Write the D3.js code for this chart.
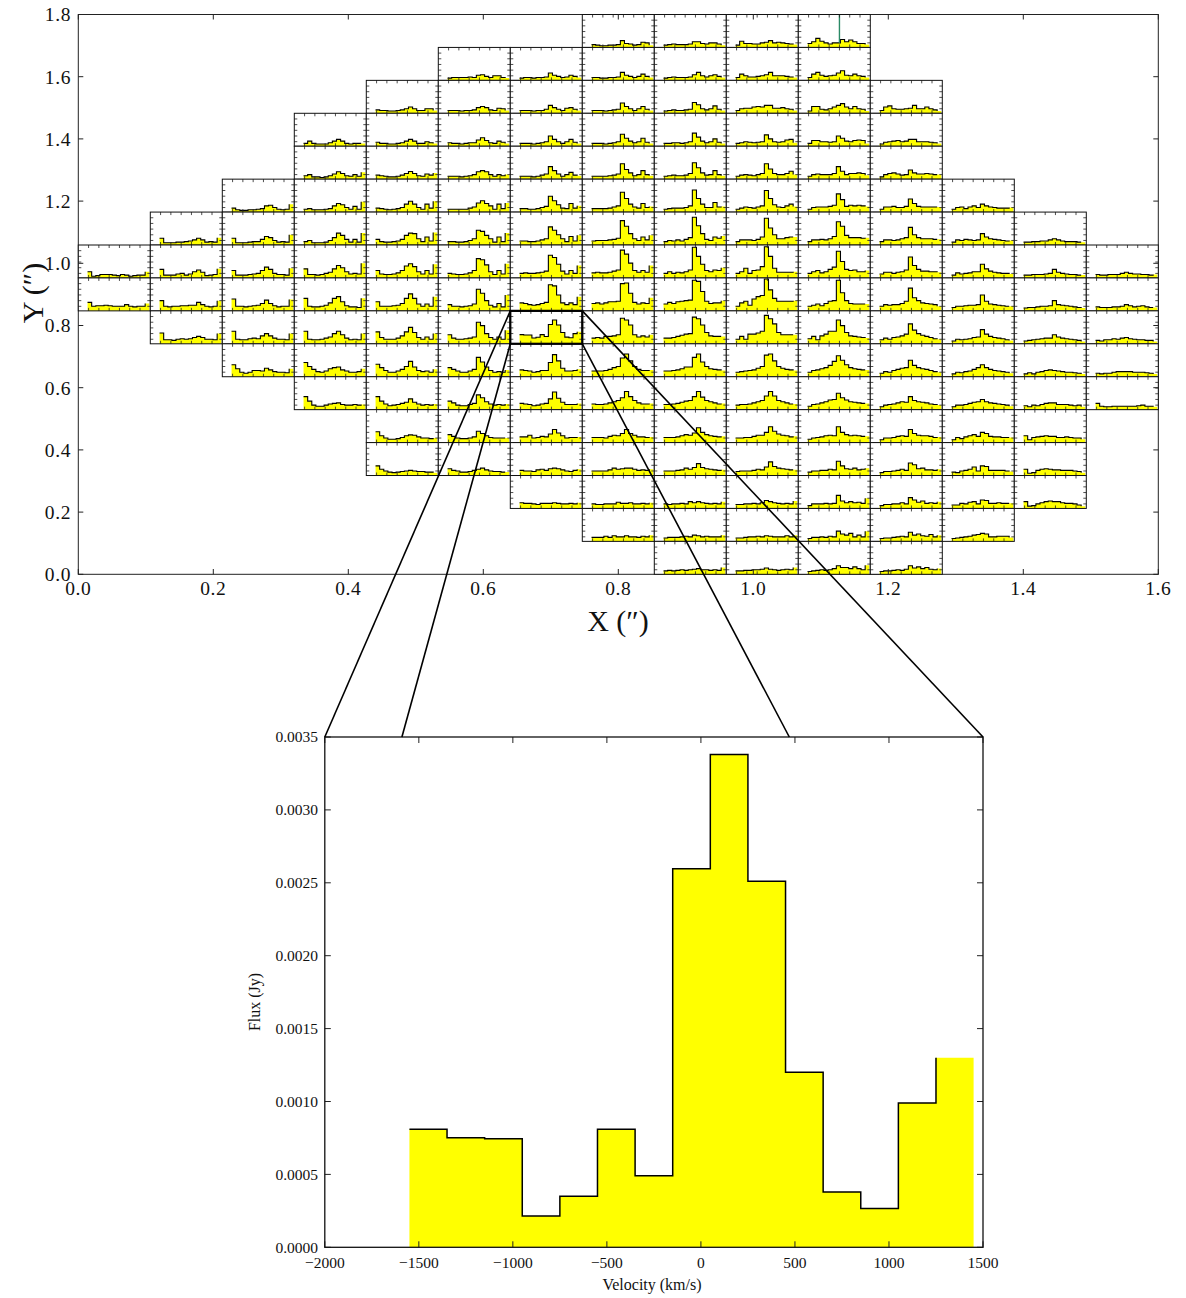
<!DOCTYPE html>
<html><head><meta charset="utf-8">
<script src="https://cdn.jsdelivr.net/npm/d3@7"></script>
<style>
body{margin:0;background:#fff}
svg{display:block}
text{font-family:"Liberation Serif","DejaVu Serif",serif;fill:#111}
</style></head>
<body><svg id="chart" width="1186" height="1298"></svg>
<script>
// ---------------- DATA ----------------
// velocity bins (km/s): left edges, width 200
const binLeftEdges = [-1550,-1350,-1150,-950,-750,-550,-350,-150,50,250,450,650,850,1050,1250];
const binWidth = 200;
// zoomed spectrum (Jy) of the highlighted spaxel
const zoomFlux = [0.00081,0.000752,0.000744,0.000215,0.00035,0.00081,0.00049,0.002596,0.00338,0.00251,0.0012,0.00038,0.000266,0.00099,0.0013];

// axis ticks
const mapXTicks = [0,0.2,0.4,0.6,0.8,1.0,1.2,1.4,1.6];
const mapYTicks = [0,0.2,0.4,0.6,0.8,1.0,1.2,1.4,1.6,1.8];
const velTicks = [-2000,-1500,-1000,-500,0,500,1000,1500];
const fluxTicks = [0,0.0005,0.001,0.0015,0.002,0.0025,0.003,0.0035];
const cellVelTicks = [-1500,-1000,-500,0,500,1000];
const cellFluxTicks = [0,0.001,0.002,0.003,0.004];

// map grid: 15 columns x 17 rows over 1.6" x 1.8"
const mapExtent = [1.6, 1.8];
const gridCols = 15, gridRows = 17;
const firstRowOfColumn = [7,6,5,3,2,1,1,0,0,0,0,2,5,6,7];
const highlightCell = [6, 9];          // column, row (row 0 = top)
const markerCell = [10, 0];            // spaxel with vertical marker at v = 0
const zoomLineEnds = [-2000, -1590, 470, 1500]; // where connector lines meet the zoom panel (km/s)

// spaxel spectra (mJy), per column, rows from top
const spectraC00 = [
 [0.3,-0.5,-0.4,-0.2,-0.2,-0.2,-0.3,-0.4,-0.2,-0.3,-0.5,-0.4,-0.3,-0.3,0.3],
 [0.7,0.0,0.1,0.1,0.2,0.1,0.0,0.0,0.0,0.3,0.0,-0.1,0.0,0.0,0.5]];
const spectraC01 = [
 [0.4,-0.4,-0.4,-0.4,-0.3,-0.3,-0.2,-0.1,0.1,0.4,0.1,-0.3,-0.2,-0.3,0.5],
 [0.7,-0.3,-0.3,-0.3,-0.1,0.0,-0.3,-0.1,0.3,0.6,0.2,-0.4,-0.3,-0.2,0.8],
 [1.0,0.0,-0.1,0.0,0.0,0.1,0.1,0.2,0.2,0.7,0.3,0.0,-0.1,0.0,1.0],
 [1.1,-0.1,-0.1,-0.2,0.0,0.1,0.0,0.1,0.3,0.5,0.3,0.0,0.0,-0.1,1.0]];
const spectraC02 = [
 [-0.1,-0.4,-0.5,-0.5,-0.4,-0.4,-0.3,-0.2,0.3,0.4,0.0,-0.3,-0.4,-0.3,0.6],
 [0.4,-0.4,-0.4,-0.4,-0.3,-0.2,-0.2,0.2,0.7,0.5,0.0,-0.3,-0.2,-0.3,1.0],
 [0.5,-0.3,-0.3,-0.3,-0.2,-0.1,0.0,0.5,1.1,0.7,0.0,-0.2,-0.2,-0.3,0.9],
 [1.3,0.0,0.0,-0.1,0.0,0.1,0.2,0.5,1.1,0.5,0.1,-0.1,0.0,0.0,1.2],
 [1.4,0.0,-0.1,-0.1,0.1,0.2,0.1,0.6,1.0,0.6,0.2,0.0,0.0,-0.1,1.0],
 [1.3,0.6,0.0,-0.2,0.0,0.3,0.3,0.2,0.7,0.4,0.1,0.0,0.0,-0.1,0.6]];
const spectraC03 = [
 [-0.3,0.1,-0.3,-0.4,-0.4,-0.4,-0.2,0.1,0.4,0.1,-0.3,-0.4,-0.3,-0.3,-0.3],
 [-0.2,0.0,-0.4,-0.4,-0.5,-0.4,-0.2,0.1,0.5,0.2,-0.2,-0.3,0.0,-0.3,0.4],
 [-0.3,-0.2,-0.4,-0.4,-0.4,-0.3,-0.2,0.3,0.7,0.5,0.0,-0.3,0.2,-0.3,1.0],
 [-0.2,0.0,-0.4,-0.4,-0.4,-0.3,0.0,0.5,1.3,0.9,0.2,-0.3,0.2,-0.3,1.3],
 [0.8,-0.2,-0.2,-0.3,-0.2,0.0,0.2,0.8,1.4,1.0,0.3,-0.1,0.0,-0.1,1.8],
 [1.4,0.0,-0.1,-0.1,0.0,0.2,0.6,1.4,1.7,0.8,0.1,-0.1,-0.1,-0.2,1.4],
 [1.4,0.0,-0.1,-0.1,0.0,0.2,0.4,1.0,1.4,0.8,0.2,-0.1,0.0,-0.1,1.0],
 [1.7,1.0,0.5,0.1,0.0,0.2,0.6,0.8,0.9,0.4,0.2,0.0,0.0,0.1,0.6],
 [1.5,0.7,0.0,-0.2,-0.2,0.0,0.2,0.3,0.4,0.1,0.0,0.0,0.1,0.0,0.1]];
const spectraC04 = [
 [-0.2,-0.3,-0.3,-0.4,-0.4,-0.3,-0.2,0.0,0.3,0.0,-0.3,-0.3,0.0,0.0,-0.3],
 [-0.1,-0.3,-0.3,-0.4,-0.4,-0.3,-0.2,0.1,0.4,0.1,-0.3,-0.3,0.0,-0.2,-0.3],
 [-0.1,-0.2,-0.3,-0.4,-0.4,-0.3,-0.1,0.2,0.55,0.2,-0.2,-0.3,0.1,-0.1,0.3],
 [-0.1,-0.2,-0.3,-0.4,-0.3,-0.2,0.0,0.6,1.1,0.6,0.0,-0.3,0.6,-0.1,1.1],
 [0.2,-0.2,-0.3,-0.3,-0.2,-0.1,0.2,0.9,1.3,1.2,0.3,-0.2,0.6,-0.1,1.4],
 [0.5,-0.1,-0.2,-0.2,-0.1,0.1,0.5,1.3,1.7,1.2,0.3,-0.1,0.5,-0.1,1.6],
 [0.8,0.0,0.0,0.0,0.1,0.2,0.5,1.4,2.2,1.4,0.4,0.0,0.4,0.0,1.7],
 [1.3,0.3,0.0,0.0,0.0,0.2,0.6,1.3,2.1,1.2,0.3,0.0,0.4,0.0,1.0],
 [1.4,0.8,0.3,0.0,0.0,0.2,0.5,1.0,1.9,0.9,0.3,0.1,0.2,0.0,0.5],
 [1.5,0.7,0.2,-0.1,0.0,0.1,0.3,0.5,1.1,0.5,0.2,0.0,0.1,0.0,0.2],
 [1.1,0.4,0.0,-0.2,-0.2,-0.1,0.1,0.4,0.55,0.5,0.2,0.0,0.0,-0.1,0.0],
 [0.9,0.3,0.0,-0.2,-0.3,-0.2,-0.1,0.0,0.1,0.0,-0.1,-0.1,-0.2,-0.2,-0.3]];
const spectraC05 = [
 [-0.4,-0.3,-0.3,-0.3,-0.3,-0.2,-0.3,0.1,0.2,-0.1,-0.3,0.0,0.0,-0.3,-0.4],
 [-0.3,-0.3,-0.3,-0.4,-0.3,-0.3,-0.2,0.2,0.4,0.2,-0.2,-0.3,0.1,0.0,-0.3],
 [-0.2,-0.3,-0.3,-0.4,-0.3,-0.2,-0.2,0.3,0.7,0.2,-0.2,-0.3,0.1,-0.1,-0.3],
 [-0.3,-0.3,-0.3,-0.4,-0.3,-0.2,0.0,0.5,0.7,0.5,0.0,-0.3,0.0,-0.2,0.0],
 [-0.3,-0.3,-0.3,-0.3,-0.3,-0.1,0.1,0.8,1.2,0.7,0.3,-0.3,0.6,-0.2,0.8],
 [-0.2,-0.2,-0.3,-0.3,-0.2,0.0,0.3,1.8,1.6,0.9,0.3,-0.3,0.6,-0.2,1.3],
 [0.0,-0.1,-0.2,-0.2,-0.1,0.1,0.5,2.6,2.4,1.5,0.3,-0.2,0.5,-0.1,1.7],
 [0.3,0.0,0.0,-0.1,0.0,0.1,0.4,3.0,2.3,1.0,0.2,-0.1,0.5,-0.1,2.0],
 [0.8,0.2,0.0,0.0,0.1,0.2,0.4,3.0,2.4,1.0,0.3,0.0,0.4,0.0,1.6],
 [0.8,0.5,0.2,0.0,0.0,0.2,0.5,2.6,1.8,0.9,0.3,0.0,0.1,0.0,0.4],
 [0.7,0.4,0.0,-0.1,-0.1,0.1,0.3,1.8,1.3,0.6,0.2,0.0,0.1,0.0,0.2],
 [0.6,0.3,0.0,-0.1,-0.1,0.0,0.2,1.2,0.8,0.4,0.1,0.0,0.0,0.0,0.0],
 [0.4,0.1,0.0,-0.2,-0.2,-0.1,0.1,0.3,0.5,0.2,0.0,-0.1,-0.1,-0.2,-0.2]];
const spectraC06 = [
 [-0.4,-0.3,-0.3,-0.4,-0.3,-0.3,-0.2,0.5,0.1,-0.1,-0.3,-0.2,0.1,-0.1,-0.3],
 [-0.3,-0.3,-0.3,-0.4,-0.3,-0.3,-0.1,0.6,0.2,-0.1,-0.3,0.1,0.2,-0.1,-0.3],
 [-0.3,-0.3,-0.3,-0.4,-0.3,-0.2,0.0,1.0,0.4,0.0,-0.3,0.0,0.4,-0.1,-0.3],
 [-0.3,-0.3,-0.3,-0.4,-0.3,-0.1,0.1,1.4,0.7,0.1,-0.3,0.0,0.4,-0.1,-0.2],
 [-0.2,-0.2,-0.3,-0.3,-0.2,0.0,0.2,2.0,1.2,0.5,-0.1,-0.2,0.7,-0.1,0.3],
 [-0.1,-0.1,-0.2,-0.2,-0.1,0.1,0.3,2.4,1.8,1.0,0.3,-0.2,0.7,-0.1,0.9],
 [0.0,0.1,0.0,0.0,0.1,0.2,0.4,3.2,2.8,1.6,0.4,-0.1,0.5,0.0,1.4],
 [0.6,0.5,0.3,0.2,0.3,0.5,0.7,3.8,3.6,2.0,0.6,0.3,0.6,0.3,1.7],
 null, // highlighted spaxel: uses zoomFlux
 [0.4,0.3,0.2,0.0,0.1,0.3,0.3,1.7,3.1,2.0,0.7,0.2,0.2,0.3,0.5],
 [0.3,0.2,0.1,-0.1,0.0,0.2,0.3,1.1,2.3,1.2,0.5,0.1,0.1,0.1,0.3],
 [0.2,0.2,0.5,0.0,0.1,0.3,0.2,0.7,1.5,0.9,0.4,0.0,0.1,0.1,0.2],
 [0.1,0.0,0.0,-0.1,0.2,0.3,0.1,0.4,0.5,0.4,0.2,0.0,-0.1,0.1,0.3],
 [0.2,0.1,0.1,0.0,-0.1,0.1,0.1,0.1,0.2,0.1,0.0,0.0,0.1,0.0,0.2]];
const spectraC07 = [
 [-0.3,-0.4,-0.5,-0.5,-0.4,-0.4,-0.3,0.4,-0.1,-0.2,-0.4,-0.3,0.1,0.0,-0.4],
 [-0.3,-0.3,-0.4,-0.4,-0.3,-0.3,-0.2,0.6,0.1,-0.1,-0.3,-0.1,0.3,-0.1,-0.3],
 [-0.3,-0.3,-0.3,-0.4,-0.3,-0.2,-0.1,1.0,0.4,0.0,-0.3,0.0,0.4,-0.1,-0.3],
 [-0.3,-0.3,-0.3,-0.4,-0.3,-0.2,0.0,1.3,0.6,0.1,-0.2,0.0,0.6,-0.1,-0.3],
 [-0.3,-0.3,-0.3,-0.3,-0.2,-0.1,0.1,1.9,0.9,0.3,-0.2,0.0,0.7,0.0,-0.2],
 [-0.2,-0.2,-0.2,-0.2,-0.1,0.1,0.3,2.7,1.6,0.6,0.1,-0.1,0.7,0.0,0.2],
 [-0.1,0.0,0.0,0.0,0.1,0.2,0.4,3.5,2.5,1.2,0.3,0.0,0.6,0.1,0.9],
 [0.1,0.2,0.1,0.1,0.2,0.4,0.6,4.1,3.4,1.8,0.5,0.2,0.5,0.2,1.4],
 [0.5,0.6,0.4,0.6,0.8,0.8,0.9,4.0,4.1,2.3,0.7,0.4,0.6,0.5,1.5],
 [0.2,0.3,0.2,0.5,0.5,0.6,0.8,3.7,3.4,2.5,0.8,0.4,0.6,0.4,0.8],
 [0.2,0.2,0.2,0.3,0.5,0.8,1.0,2.5,3.2,2.0,1.0,0.5,0.3,0.3,0.4],
 [0.2,0.1,0.1,0.2,0.4,0.6,0.8,1.3,2.4,1.5,0.8,0.4,0.2,0.2,0.3],
 [0.1,0.1,0.1,0.0,0.3,0.5,0.4,0.8,1.5,0.8,0.5,0.2,0.2,0.1,0.2],
 [0.0,0.0,0.0,0.0,0.2,0.5,0.3,0.4,0.5,0.5,0.3,0.1,0.2,0.1,0.3],
 [0.0,-0.1,-0.1,0.0,0.0,0.0,0.3,0.1,0.1,0.2,0.0,0.0,0.1,0.0,0.2],
 [-0.1,-0.1,-0.1,0.1,-0.1,0.2,0.0,0.0,0.2,0.0,0.0,-0.1,0.1,0.0,0.3]];
const spectraC08 = [
 [-0.4,-0.3,-0.2,-0.3,-0.3,-0.3,-0.2,0.2,0.2,-0.1,-0.2,0.0,0.0,-0.2,-0.4],
 [-0.4,-0.3,-0.2,-0.3,-0.3,-0.3,-0.2,0.2,0.6,0.0,-0.2,0.0,0.2,-0.1,-0.3],
 [-0.4,-0.3,-0.2,-0.3,-0.3,-0.2,-0.1,1.1,0.7,0.0,-0.2,0.0,0.5,-0.1,-0.3],
 [-0.3,-0.3,-0.2,-0.2,-0.3,-0.2,0.0,1.5,0.8,0.1,-0.2,0.0,0.5,-0.1,-0.3],
 [-0.3,-0.2,-0.1,-0.2,-0.2,-0.1,0.2,2.1,1.2,0.3,-0.1,0.0,0.7,0.0,-0.2],
 [-0.3,-0.2,-0.1,-0.1,-0.1,0.0,0.3,3.1,1.6,0.6,0.0,0.0,0.9,0.1,0.2],
 [-0.2,0.0,-0.1,0.1,-0.1,0.2,0.5,4.1,2.6,1.2,0.2,0.0,0.6,0.4,0.8],
 [0.0,0.3,0.0,0.2,0.1,0.3,0.6,4.6,3.0,1.6,0.5,0.3,0.6,0.5,1.0],
 [0.4,0.7,0.5,0.8,0.9,1.0,1.1,4.6,4.4,2.6,0.9,0.5,0.6,0.6,1.0],
 [0.2,0.2,0.3,0.5,0.7,0.9,1.0,3.9,3.6,2.5,1.2,0.6,0.5,0.5,0.5],
 [0.2,0.2,0.3,0.4,0.6,0.9,0.9,2.6,3.2,1.8,1.0,0.6,0.5,0.4,0.3],
 [0.1,0.1,0.2,0.3,0.5,0.7,0.8,1.5,2.4,1.4,0.8,0.6,0.4,0.2,0.3],
 [0.1,0.1,0.1,0.2,0.4,0.6,0.5,0.9,1.8,1.0,0.6,0.4,0.3,0.2,0.3],
 [0.0,0.0,0.0,0.1,0.2,0.5,0.3,0.6,1.3,0.6,0.4,0.3,0.2,0.1,0.2],
 [0.0,-0.1,0.0,0.0,0.1,0.0,0.4,0.2,0.4,0.2,0.1,0.0,0.1,0.0,0.4],
 [-0.2,-0.1,-0.1,-0.1,0.0,0.1,0.0,0.3,0.2,0.0,0.1,0.0,0.0,0.0,0.3],
 [-0.2,-0.1,-0.2,-0.1,0.0,-0.1,0.0,0.1,0.2,0.0,0.0,-0.1,0.0,-0.1,0.4]];
const spectraC09 = [
 [-0.4,0.3,-0.1,-0.1,-0.2,-0.2,0.0,0.1,0.4,0.0,0.1,0.0,-0.1,-0.2,-0.3],
 [-0.3,0.3,0.0,-0.2,-0.2,-0.1,0.0,0.2,0.6,0.0,0.0,0.0,-0.1,-0.2,-0.3],
 [-0.3,0.0,0.1,0.1,0.3,0.4,0.3,0.6,0.6,0.1,0.1,0.2,0.0,-0.1,-0.3],
 [-0.3,-0.2,0.0,-0.1,-0.2,-0.1,0.0,1.2,0.5,0.0,-0.1,0.0,0.3,0.4,-0.2],
 [-0.3,-0.1,0.0,-0.1,-0.2,0.0,0.2,1.9,1.0,0.2,0.0,0.0,0.2,0.6,0.0],
 [-0.3,-0.1,0.1,0.0,-0.1,0.1,0.3,3.0,1.6,0.5,0.1,0.0,0.3,0.6,0.2],
 [-0.2,0.1,0.1,0.1,0.0,0.2,0.6,3.9,2.2,1.0,0.3,0.3,0.5,0.6,0.6],
 [0.0,0.3,0.9,0.0,0.5,0.6,1.2,4.7,3.0,0.9,0.2,0.2,0.2,0.2,0.3],
 [0.0,0.6,0.9,0.2,1.3,1.7,1.9,4.8,2.9,1.4,0.9,0.9,0.9,0.9,1.0],
 [0.0,0.5,0.0,0.9,0.9,1.1,1.4,4.2,3.6,2.7,1.2,0.8,0.8,0.8,0.8],
 [0.0,0.1,0.2,0.3,0.4,0.7,1.0,3.0,3.2,2.0,1.0,0.7,0.5,0.4,0.3],
 [0.0,0.1,0.1,0.2,0.4,0.6,0.8,1.6,2.4,1.6,0.8,0.6,0.4,0.2,0.2],
 [0.0,0.0,0.1,0.1,0.3,0.5,0.5,1.0,2.0,1.2,0.7,0.5,0.4,0.2,0.3],
 [-0.1,0.0,0.0,0.0,0.1,0.3,0.2,0.7,1.6,0.8,0.5,0.4,0.3,0.2,0.2],
 [-0.1,-0.1,0.0,0.0,0.1,0.0,0.2,0.6,0.4,0.2,0.1,0.0,0.1,0.0,0.5],
 [-0.2,-0.2,-0.1,0.0,0.0,0.1,0.0,0.2,0.1,0.0,0.0,0.0,0.2,0.0,0.3],
 [-0.2,-0.2,-0.1,-0.1,0.0,0.0,0.1,0.3,0.1,0.0,-0.1,0.0,0.1,0.0,0.4]];
const spectraC10 = [
 [-0.1,0.2,0.8,0.3,0.0,-0.2,0.0,0.0,0.6,0.2,0.5,0.2,-0.1,-0.1,-0.3],
 [-0.3,0.3,0.6,0.1,-0.1,0.0,0.1,0.5,0.9,0.1,0.0,0.3,0.0,-0.1,-0.3],
 [-0.4,0.4,0.4,-0.1,-0.2,0.0,0.3,0.6,0.9,0.3,0.0,0.4,0.0,-0.1,-0.4],
 [-0.3,0.2,0.2,0.0,0.0,-0.1,0.0,1.0,0.6,0.1,0.0,0.2,0.3,0.2,-0.3],
 [-0.3,0.0,0.1,0.0,0.0,0.0,0.2,1.4,0.6,0.0,0.2,0.2,0.3,0.2,-0.1],
 [-0.3,0.0,0.1,0.1,0.1,0.2,0.4,2.4,1.4,0.2,0.4,0.3,0.4,0.3,0.2],
 [-0.2,0.1,0.1,0.2,0.1,0.3,0.7,3.3,2.5,0.9,0.5,0.5,0.5,0.4,0.5],
 [0.0,0.3,0.5,0.1,0.3,0.7,1.1,3.9,2.1,0.7,0.5,0.6,0.3,0.3,0.5],
 [0.0,0.2,0.4,0.1,0.5,0.9,1.0,4.6,2.4,1.0,0.5,0.4,0.4,0.4,0.4],
 [0.1,0.5,-0.1,0.6,0.9,1.4,1.4,3.4,2.4,1.2,0.6,0.5,0.4,0.3,0.2],
 [0.0,0.3,0.4,0.6,0.8,1.2,1.9,2.9,2.1,1.3,0.8,0.6,0.5,0.4,0.4],
 [-0.2,0.1,0.2,0.4,0.6,0.9,1.0,2.1,1.3,0.9,0.6,0.5,0.4,0.3,0.3],
 [-0.2,0.0,0.1,0.2,0.4,0.5,0.4,2.0,1.0,0.6,0.4,0.5,0.4,0.3,0.3],
 [-0.2,0.0,0.0,0.1,0.1,0.3,0.2,1.7,0.9,0.4,0.3,0.5,0.2,0.3,0.5],
 [-0.3,0.0,0.0,0.0,0.1,0.0,0.1,1.5,0.5,0.2,0.4,0.2,0.3,0.1,1.0],
 [-0.3,-0.1,-0.1,0.0,-0.1,0.1,0.0,1.0,0.5,0.3,0.6,0.0,0.3,0.0,1.0],
 [-0.3,-0.2,-0.1,0.0,-0.1,0.0,0.2,0.7,0.4,0.4,0.2,0.5,0.2,0.0,0.8]];
const spectraC11 = [
 [-0.3,0.3,0.5,0.0,-0.1,-0.1,0.0,0.1,0.6,0.0,0.0,0.3,0.0,-0.2,-0.4],
 [-0.4,-0.1,0.0,0.1,0.2,0.0,0.1,0.4,0.4,0.0,0.0,0.0,-0.1,-0.2,-0.3],
 [-0.4,0.0,0.2,0.3,0.1,-0.1,0.0,0.8,0.3,0.1,0.1,0.2,0.1,0.0,0.0],
 [-0.3,0.1,0.1,0.2,0.0,0.0,0.2,1.5,0.7,0.2,0.1,0.1,0.1,0.1,0.1],
 [-0.2,0.1,0.1,0.0,0.1,0.3,0.5,2.3,1.0,0.5,0.3,0.3,0.3,0.2,0.2],
 [-0.1,0.2,0.2,0.0,0.2,0.3,0.6,2.9,1.4,0.7,0.4,0.4,0.3,0.3,0.2],
 [0.0,0.3,0.2,0.3,0.3,0.5,0.9,3.2,1.5,1.0,0.6,0.5,0.4,0.3,0.0],
 [-0.1,0.2,0.0,0.3,0.4,0.6,0.9,2.7,1.6,1.0,0.7,0.5,0.3,0.1,0.0],
 [-0.2,0.1,0.0,0.3,0.5,0.7,0.8,2.1,1.2,0.8,0.6,0.5,0.3,0.1,0.0],
 [-0.3,0.0,0.1,0.2,0.4,0.6,0.5,1.5,0.8,0.6,0.5,0.4,0.2,0.1,0.0],
 [-0.3,0.0,0.0,0.1,0.3,0.4,0.3,1.5,0.8,0.5,0.4,0.4,0.3,0.1,0.2],
 [-0.3,-0.1,-0.1,0.0,0.1,0.3,0.1,1.4,1.1,0.4,0.5,0.2,0.2,0.1,0.3],
 [-0.3,-0.1,-0.1,0.0,0.0,0.2,0.0,1.1,0.7,0.3,0.5,0.1,0.2,0.1,0.4],
 [-0.3,-0.2,-0.2,-0.1,0.0,0.1,0.0,0.8,0.3,0.5,0.2,0.1,0.4,0.0,0.3],
 [-0.3,-0.2,-0.2,-0.1,0.0,-0.1,0.1,0.7,0.3,0.5,0.2,0.4,0.1,0.0,0.2]];
const spectraC12 = [
 [-0.3,0.0,0.1,-0.2,0.1,0.3,0.0,0.6,0.3,0.1,0.0,-0.1,-0.1,-0.1,0.0],
 [-0.3,0.1,0.0,0.2,0.1,0.0,0.1,1.2,0.6,0.3,0.2,0.1,0.0,-0.1,0.0],
 [-0.3,0.1,-0.1,0.0,0.1,0.3,0.3,1.6,0.8,0.4,0.2,0.1,0.0,0.0,-0.1],
 [-0.2,0.0,0.0,0.1,0.2,0.2,0.3,2.0,0.9,0.4,0.3,0.2,0.1,0.0,0.0],
 [-0.3,0.0,-0.1,0.0,0.1,0.3,0.4,1.7,0.9,0.5,0.3,0.2,0.1,-0.1,-0.2],
 [-0.3,0.0,-0.1,0.1,0.2,0.5,0.8,1.3,0.8,0.5,0.3,0.2,0.1,0.0,-0.2],
 [-0.3,0.0,0.0,0.1,0.3,0.5,0.6,1.0,0.6,0.4,0.3,0.2,0.1,0.0,-0.2],
 [-0.3,0.1,-0.1,0.2,0.4,0.6,0.3,1.0,0.8,0.3,0.2,0.2,0.1,0.1,0.1],
 [-0.2,-0.3,0.0,0.1,0.3,0.7,0.0,0.9,0.8,0.1,0.1,0.1,0.1,0.0,-0.1],
 [-0.2,-0.2,0.1,0.0,0.3,0.4,0.0,0.7,0.6,0.1,0.1,0.2,0.1,0.1,0.1],
 [-0.3,-0.2,-0.1,0.0,0.1,0.3,0.4,0.6,0.5,0.0,0.0,0.1,0.1,0.1,-0.1]];
const spectraC13 = [
 [-0.3,-0.3,-0.2,-0.2,-0.1,-0.1,0.1,0.3,0.1,-0.1,-0.2,-0.2,-0.2,-0.3,-0.3],
 [-0.3,-0.3,-0.2,-0.2,-0.2,-0.1,0.0,0.7,0.2,0.0,-0.1,-0.2,-0.2,-0.3,-0.3],
 [-0.3,-0.2,-0.2,-0.1,0.0,0.0,0.1,1.0,0.3,0.2,0.1,0.0,-0.1,-0.2,-0.3],
 [-0.3,-0.2,-0.1,0.0,0.1,0.2,0.2,0.8,0.4,0.2,0.1,0.0,-0.1,-0.2,-0.4],
 [-0.3,-0.1,-0.3,0.0,0.1,0.3,0.4,0.3,0.2,0.1,0.0,0.0,-0.1,-0.2,-0.3],
 [-0.1,-0.3,0.0,-0.1,0.1,0.3,0.4,0.4,0.1,0.1,0.1,0.0,-0.1,0.0,-0.3],
 [0.4,-0.3,0.1,0.2,0.3,0.4,0.3,0.3,0.1,0.1,0.2,0.1,0.0,0.0,-0.2],
 [0.3,-0.4,-0.3,0.1,0.3,0.4,0.3,0.2,0.2,0.1,0.1,0.1,0.0,-0.1,-0.3],
 [0.4,-0.4,-0.3,0.0,0.2,0.4,0.5,0.4,0.4,0.2,0.1,0.1,0.0,-0.2,-0.4]];
const spectraC14 = [
 [-0.2,-0.3,-0.3,-0.2,-0.2,-0.2,0.0,0.2,0.0,-0.1,-0.1,-0.2,-0.2,-0.3,-0.2],
 [-0.1,-0.2,-0.2,-0.2,-0.1,-0.1,0.0,0.3,0.1,-0.1,0.0,0.1,-0.1,-0.2,-0.2],
 [-0.2,-0.3,-0.1,-0.1,0.1,0.0,0.2,0.3,0.1,0.0,-0.1,-0.1,-0.2,-0.2,-0.4],
 [-0.2,-0.3,-0.2,-0.2,0.0,0.1,0.1,0.1,0.1,0.0,0.0,0.0,-0.1,-0.2,-0.3],
 [0.3,-0.2,-0.3,-0.3,-0.2,-0.2,-0.2,-0.2,-0.2,-0.2,-0.1,0.0,-0.2,-0.2,-0.3]];

// ---------------- DRAWING ----------------
const spectraByColumn = [spectraC00,spectraC01,spectraC02,spectraC03,spectraC04,spectraC05,spectraC06,
  spectraC07,spectraC08,spectraC09,spectraC10,spectraC11,spectraC12,spectraC13,spectraC14];

const svg = d3.select("#chart");
const mapX = d3.scaleLinear().domain([0, mapExtent[0]]).range([78.3, 1158.3]);
const mapY = d3.scaleLinear().domain([0, mapExtent[1]]).range([574.3, 14.5]);
const velX = d3.scaleLinear().domain([-2000, 1500]).range([324.8, 983]);
const fluxY = d3.scaleLinear().domain([0, 0.0035]).range([1247.3, 737]);
const cellFluxDomain = [-0.0008, 0.005];
const cellW = mapExtent[0] / gridCols, cellH = mapExtent[1] / gridRows;

function spectrumPaths(g, vx, fy, values, baseY, lw){
  const pts = binLeftEdges.map((e,i)=>[e, values[i]]);
  const areaPts = pts.concat([[binLeftEdges[binLeftEdges.length-1] + binWidth, values[values.length-1]]]);
  const area = d3.area().x(d=>vx(d[0])).y0(baseY).y1(d=>fy(d[1])).curve(d3.curveStepAfter);
  g.append("path").attr("d", area(areaPts)).attr("fill", "#ffff00").attr("stroke","none");
  const line = d3.line().x(d=>vx(d[0])).y(d=>fy(d[1])).curve(d3.curveStepAfter);
  g.append("path").attr("d", line(pts)).attr("fill","none").attr("stroke","#000")
    .attr("stroke-width", lw).attr("stroke-linejoin","miter");
}

// top panel frame
svg.append("rect").attr("x",78.3).attr("y",14.5).attr("width",1080).attr("height",559.8)
  .attr("fill","#fff").attr("stroke","#222").attr("stroke-width",1);

const cellsG = svg.append("g");
spectraByColumn.forEach((colSpectra, c) => {
  colSpectra.forEach((vals, k) => {
    const r = firstRowOfColumn[c] + k;
    const values = vals ? vals.map(v => v / 1000) : zoomFlux;
    const x0 = mapX(c * cellW), x1 = mapX((c + 1) * cellW);
    const yTop = mapY(mapExtent[1] - r * cellH), yBot = mapY(mapExtent[1] - (r + 1) * cellH);
    const vx = d3.scaleLinear().domain([-2000, 1500]).range([x0, x1]);
    const fy = d3.scaleLinear().domain(cellFluxDomain).range([yBot, yTop]);
    const g = cellsG.append("g");
    g.append("rect").attr("x",x0).attr("y",yTop).attr("width",x1-x0).attr("height",yBot-yTop).attr("fill","#fff");
    spectrumPaths(g, vx, fy, values, yBot, 1.1);
    if (c === markerCell[0] && r === markerCell[1]) {
      g.append("line").attr("x1",vx(0)).attr("x2",vx(0)).attr("y1",fy(values[7])).attr("y2",yTop)
        .attr("stroke","#2b8a66").attr("stroke-width",1.4);
    }
    const t = 3;
    cellVelTicks.forEach(v => {
      g.append("line").attr("x1",vx(v)).attr("x2",vx(v)).attr("y1",yTop).attr("y2",yTop+t).attr("stroke","#222").attr("stroke-width",0.8);
      g.append("line").attr("x1",vx(v)).attr("x2",vx(v)).attr("y1",yBot).attr("y2",yBot-t).attr("stroke","#222").attr("stroke-width",0.8);
    });
    cellFluxTicks.forEach(f => {
      g.append("line").attr("x1",x0).attr("x2",x0+t).attr("y1",fy(f)).attr("y2",fy(f)).attr("stroke","#222").attr("stroke-width",0.8);
      g.append("line").attr("x1",x1).attr("x2",x1-t).attr("y1",fy(f)).attr("y2",fy(f)).attr("stroke","#222").attr("stroke-width",0.8);
    });
    g.append("rect").attr("x",x0).attr("y",yTop).attr("width",x1-x0).attr("height",yBot-yTop)
      .attr("fill","none").attr("stroke","#111").attr("stroke-width",1);
  });
});

// top panel ticks & labels
const axG = svg.append("g");
mapXTicks.forEach(v => {
  axG.append("line").attr("x1",mapX(v)).attr("x2",mapX(v)).attr("y1",574.3).attr("y2",569).attr("stroke","#222");
  axG.append("line").attr("x1",mapX(v)).attr("x2",mapX(v)).attr("y1",14.5).attr("y2",19.5).attr("stroke","#222");
  axG.append("text").attr("x",mapX(v)).attr("y",595).attr("text-anchor","middle").attr("font-size",19.5)
    .attr("letter-spacing",0.6).attr("fill","#333").text(d3.format(".1f")(v));
});
mapYTicks.forEach(v => {
  axG.append("line").attr("x1",78.3).attr("x2",83.3).attr("y1",mapY(v)).attr("y2",mapY(v)).attr("stroke","#222");
  axG.append("line").attr("x1",1158.3).attr("x2",1153.3).attr("y1",mapY(v)).attr("y2",mapY(v)).attr("stroke","#222");
  axG.append("text").attr("x",71).attr("y",mapY(v)).attr("dy","0.35em").attr("text-anchor","end").attr("font-size",19.5)
    .attr("letter-spacing",0.6).attr("fill","#333").text(d3.format(".1f")(v));
});
axG.append("text").attr("x",618).attr("y",631).attr("text-anchor","middle").attr("font-size",30).attr("fill","#222").text("X (″)");
axG.append("text").attr("transform","translate(43,293) rotate(-90)").attr("text-anchor","middle").attr("font-size",30).attr("fill","#222").text("Y (″)");

// bottom (zoom) panel
const zG = svg.append("g");
zG.append("rect").attr("x",velX(-2000)).attr("y",fluxY(0.0035)).attr("width",velX(1500)-velX(-2000))
  .attr("height",fluxY(0)-fluxY(0.0035)).attr("fill","#fff");
spectrumPaths(zG, velX, fluxY, zoomFlux, fluxY(0), 1.5);
velTicks.forEach(v => {
  zG.append("line").attr("x1",velX(v)).attr("x2",velX(v)).attr("y1",fluxY(0)).attr("y2",fluxY(0)-6).attr("stroke","#222");
  zG.append("line").attr("x1",velX(v)).attr("x2",velX(v)).attr("y1",fluxY(0.0035)).attr("y2",fluxY(0.0035)+6).attr("stroke","#222");
  zG.append("text").attr("x",velX(v)).attr("y",1268).attr("text-anchor","middle").attr("font-size",15.5).attr("fill","#333")
    .text(d3.format("d")(v));
});
fluxTicks.forEach(f => {
  zG.append("line").attr("x1",velX(-2000)).attr("x2",velX(-2000)+6).attr("y1",fluxY(f)).attr("y2",fluxY(f)).attr("stroke","#222");
  zG.append("line").attr("x1",velX(1500)).attr("x2",velX(1500)-6).attr("y1",fluxY(f)).attr("y2",fluxY(f)).attr("stroke","#222");
  zG.append("text").attr("x",318).attr("y",fluxY(f)).attr("dy","0.35em").attr("text-anchor","end").attr("font-size",15.5).attr("fill","#333")
    .text(d3.format(".4f")(f));
});
zG.append("rect").attr("x",velX(-2000)).attr("y",fluxY(0.0035)).attr("width",velX(1500)-velX(-2000))
  .attr("height",fluxY(0)-fluxY(0.0035)).attr("fill","none").attr("stroke","#111").attr("stroke-width",1.3);
zG.append("text").attr("x",652).attr("y",1290).attr("text-anchor","middle").attr("font-size",16).attr("fill","#444").text("Velocity (km/s)");
zG.append("text").attr("transform","translate(260,1002) rotate(-90)").attr("text-anchor","middle").attr("font-size",16).attr("fill","#444").text("Flux (Jy)");

// highlight + connector lines
const hx0 = mapX(highlightCell[0]*cellW), hx1 = mapX((highlightCell[0]+1)*cellW);
const hy0 = mapY(mapExtent[1]-highlightCell[1]*cellH), hy1 = mapY(mapExtent[1]-(highlightCell[1]+1)*cellH);
const conn = svg.append("g").attr("stroke","#000").attr("stroke-width",1.6).attr("fill","none");
conn.append("rect").attr("x",hx0).attr("y",hy0).attr("width",hx1-hx0).attr("height",hy1-hy0).attr("stroke-width",2.2);
const corners = [[hx0,hy0],[hx0,hy1],[hx1,hy1],[hx1,hy0]];
corners.forEach((p,i) => {
  conn.append("line").attr("x1",p[0]).attr("y1",p[1]).attr("x2",velX(zoomLineEnds[i])).attr("y2",fluxY(0.0035));
});
</script></body></html>
